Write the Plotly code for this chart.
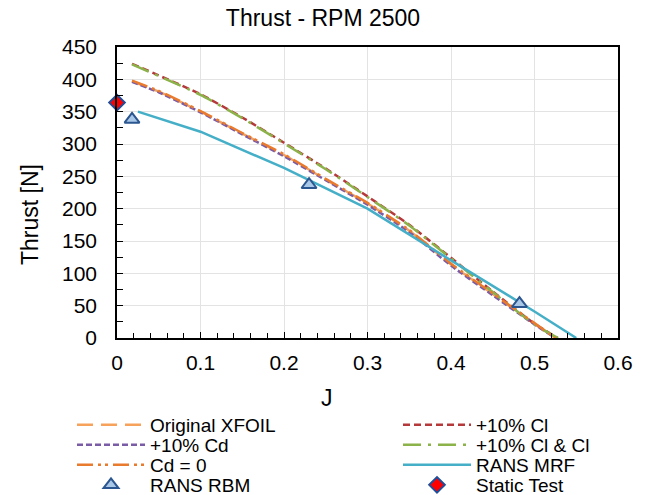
import plotly.graph_objects as go

# Advance ratio grids for the BEM (XFOIL polar) predictions
J_base = [0.018, 0.05, 0.1, 0.15, 0.2, 0.25, 0.3, 0.35, 0.4, 0.45, 0.5, 0.525]
J_cl = [0.018, 0.05, 0.1, 0.15, 0.2, 0.25, 0.3, 0.35, 0.4, 0.45, 0.5, 0.528]

# Thrust [N] for each polar variant
T_original = [397, 381, 350, 316, 283, 245, 208, 166, 114, 68, 22, 0]
T_cl10 = [424, 406, 377, 341, 302, 262, 219, 175, 124, 72, 22, 0]
T_cd10 = [396, 380, 349, 315, 281, 244, 206, 164, 112, 66, 21, 0]
T_clcl = [423, 405, 376, 340, 301, 261, 218, 174, 123, 71, 21, 0]
T_cd0 = [398, 382, 351, 317, 284, 246, 209, 167, 115, 69, 23, 0]

# CFD results
J_mrf = [0.025, 0.1, 0.2, 0.3, 0.4, 0.5, 0.55]
T_mrf = [350, 319, 263, 200, 120, 41, 0]
J_rbm = [0.018, 0.23, 0.482]
T_rbm = [338, 237, 53]

# Static thrust measurement
J_static = [0.0]
T_static = [364]

W, H = 646, 495
L, R, T, B = 117, 28, 47, 157
FONT = "Liberation Sans, Arial, sans-serif"

fig = go.Figure()

def line_trace(x, y, name, color, dash, legend, shape="spline"):
    fig.add_trace(go.Scatter(
        x=x, y=y, name=name, mode="lines", legend=legend,
        line=dict(color=color, width=2.5, dash=dash, shape=shape, smoothing=0.6),
    ))

line_trace(J_base, T_original, "Original XFOIL", "#F7A25A", "16px,8px", "legend")
line_trace(J_cl, T_cl10, "+10% Cl", "#B5393A", "7px,4px", "legend5")
line_trace(J_base, T_cd10, "+10% Cd", "#7A5BA6", "6px,3px", "legend2")
line_trace(J_cl, T_clcl, "+10% Cl & Cl", "#8CB24A", "18px,7px,3px,7px", "legend6")
line_trace(J_base, T_cd0, "Cd = 0", "#E97B2E", "16px,5px,3px,4px,3px,5px", "legend3")
line_trace(J_mrf, T_mrf, "RANS MRF", "#45AFC8", "solid", "legend7", shape="linear")

fig.add_trace(go.Scatter(
    x=J_rbm, y=T_rbm, name="RANS RBM", mode="markers", legend="legend4",
    marker=dict(symbol="triangle-up", size=13, color="#A9C7E6",
                line=dict(color="#2B5690", width=2)),
))
fig.add_trace(go.Scatter(
    x=J_static, y=T_static, name="Static Test", mode="markers", legend="legend8",
    marker=dict(symbol="diamond", size=12, color="#FF0000",
                line=dict(color="#1F4E9A", width=2)),
    cliponaxis=False,
))

# Legend entries laid out in two columns of four rows (pixel positions on the canvas)
ITEM_W = 68
entries = [
    ("legend", 150, 425), ("legend2", 150, 445), ("legend3", 150, 465), ("legend4", 150, 485),
    ("legend5", 476, 425), ("legend6", 476, 445), ("legend7", 476, 465), ("legend8", 476, 485),
]
legend_layout = {}
for key, text_x, py in entries:
    px = text_x - ITEM_W - 10
    legend_layout[key] = dict(
        x=px / W, y=1 - py / H, xref="container", yref="container",
        xanchor="left", yanchor="middle",
        bgcolor="rgba(0,0,0,0)", borderwidth=0,
        font=dict(family=FONT, size=19, color="#000000"),
        itemwidth=ITEM_W, tracegroupgap=0,
    )

axis_common = dict(
    showline=True, linecolor="#000000", linewidth=1.5, mirror=True,
    showgrid=True, gridcolor="#E3E3E3", gridwidth=1,
    zeroline=False, ticks="inside", tickcolor="#000000",
    tickfont=dict(family=FONT, size=21, color="#000000"),
)

pw, ph = W - L - R, H - T - B

def to_paper(px, py):
    return (px - L) / pw, (H - B - py) / ph

jx, jy = to_paper(327, 398)
tx, ty = to_paper(30, 215)

fig.update_layout(
    width=W, height=H,
    margin=dict(l=L, r=R, t=T, b=B, autoexpand=False),
    paper_bgcolor="#FFFFFF", plot_bgcolor="#FFFFFF",
    showlegend=True,
    title=dict(text="Thrust - RPM 2500", x=0.5, xref="container", xanchor="center",
               y=1 - 18 / H, yref="container", yanchor="middle",
               font=dict(family=FONT, size=23, color="#000000")),
    xaxis=dict(range=[0, 0.6], dtick=0.1, tick0=0, ticklen=6, tickwidth=1.2,
               minor=dict(dtick=0.02, ticks="inside", ticklen=5, tickcolor="#000000", showgrid=False),
               ticklabelstandoff=5, tickformat="~g", **axis_common),
    yaxis=dict(range=[0, 450], dtick=50, tick0=0, ticklen=6, tickwidth=1.2,
               minor=dict(dtick=25, ticks="inside", ticklen=6, tickcolor="#000000", showgrid=False),
               ticklabelstandoff=14, **axis_common),
    annotations=[
        dict(text="J", x=jx, y=jy, xref="paper", yref="paper", xanchor="center", yanchor="middle",
             showarrow=False, font=dict(family=FONT, size=23, color="#000000")),
        dict(text="Thrust [N]", x=tx, y=ty, xref="paper", yref="paper",
             xanchor="center", yanchor="middle",
             showarrow=False, textangle=-90, font=dict(family=FONT, size=23, color="#000000")),
    ],
    **legend_layout,
)

fig.write_html("out.html")
